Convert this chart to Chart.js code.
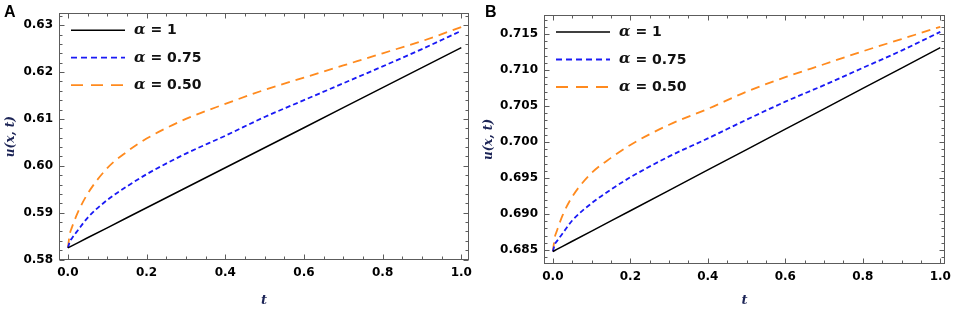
<!DOCTYPE html>
<html>
<head>
<meta charset="utf-8">
<script src="https://cdn.jsdelivr.net/npm/chart.js@4.4.0/dist/chart.umd.min.js"></script>
<style>
html, body { margin: 0; padding: 0; background: #fff; }
#wrap { position: relative; width: 957px; height: 314px; overflow: hidden; }
.painel { position: absolute; top: 0; height: 314px; }
#painelA { left: 0; width: 478px; }
#painelB { left: 478px; width: 479px; }
</style>
</head>
<body>
<div id="wrap">
  <div class="painel" id="painelA"><canvas id="chartA"></canvas></div>
  <div class="painel" id="painelB"><canvas id="chartB"></canvas></div>
</div>
<script>
// valores
const tempos = [0, 0.005, 0.01, 0.025, 0.05, 0.1, 0.15, 0.2, 0.3, 0.4, 0.5, 0.6, 0.7, 0.8, 0.9, 1.0];
const legendas = ['α = 1', 'α = 0.75', 'α = 0.50'];

// painel A
const u1A   = [0.58250, 0.58271, 0.58293, 0.58357, 0.58464, 0.58677, 0.58891, 0.59104, 0.59531, 0.59958, 0.60385, 0.60812, 0.61239, 0.61666, 0.62093, 0.62520];
const u075A = [0.5825, 0.5838, 0.5845, 0.5862, 0.5889, 0.5927, 0.5956, 0.5982, 0.6026, 0.6064, 0.6104, 0.6140, 0.6176, 0.6212, 0.6249, 0.6288];
const u050A = [0.5825, 0.5855, 0.5868, 0.5900, 0.5940, 0.5995, 0.6030, 0.6058, 0.6100, 0.6132, 0.6162, 0.6188, 0.6214, 0.6240, 0.6266, 0.6296];

// painel B
const u1B   = [0.68480, 0.68494, 0.68508, 0.68551, 0.68622, 0.68763, 0.68905, 0.69046, 0.69329, 0.69612, 0.69895, 0.70178, 0.70461, 0.70744, 0.71027, 0.71310];
const u075B = [0.6848, 0.6858, 0.6862, 0.6873, 0.6891, 0.6915, 0.6934, 0.6951, 0.6980, 0.7005, 0.7031, 0.7056, 0.7079, 0.7103, 0.7127, 0.7153];
const u050B = [0.6848, 0.6868, 0.6876, 0.6898, 0.6924, 0.6957, 0.6978, 0.6996, 0.7024, 0.7046, 0.7070, 0.7090, 0.7108, 0.7126, 0.7143, 0.7160];

const xTicks  = [0, 0.2, 0.4, 0.6, 0.8, 1.0];
const yTicksA = [0.58, 0.59, 0.60, 0.61, 0.62, 0.63];
const yTicksB = [0.685, 0.690, 0.695, 0.700, 0.705, 0.710, 0.715];

const corTitulo = '#1c2456';

// moldura com marcas internas, legenda e letra do painel
const moldura = {
    id: 'moldura',
    afterDatasetsDraw(chart, args, opts) {
        const ctx = chart.ctx;
        const a = chart.chartArea;
        const sx = chart.scales.x;
        const sy = chart.scales.y;
        const L = Math.round(a.left) + 0.5, R = Math.round(a.right) - 0.5;
        const T = Math.round(a.top) + 0.5, B = Math.round(a.bottom) - 0.5;

        ctx.save();
        ctx.strokeStyle = '#5c5c5c';
        ctx.lineWidth = 1;
        ctx.setLineDash([]);
        ctx.strokeRect(L, T, R - L, B - T);

        ctx.beginPath();
        let i0 = Math.ceil(sx.min / opts.xMinor - 1e-9);
        for (let i = i0; i * opts.xMinor <= sx.max + 1e-9; i++) {
            const v = i * opts.xMinor;
            const maior = Math.abs(v / opts.xMajor - Math.round(v / opts.xMajor)) < 1e-6;
            const len = maior ? 5 : 3;
            const px = Math.round(sx.getPixelForValue(v)) + 0.5;
            ctx.moveTo(px, B); ctx.lineTo(px, B - len);
            ctx.moveTo(px, T); ctx.lineTo(px, T + len);
        }
        i0 = Math.ceil(sy.min / opts.yMinor - 1e-9);
        for (let i = i0; i * opts.yMinor <= sy.max + 1e-9; i++) {
            const v = i * opts.yMinor;
            const maior = Math.abs(v / opts.yMajor - Math.round(v / opts.yMajor)) < 1e-6;
            const len = maior ? 5 : 3;
            const py = Math.round(sy.getPixelForValue(v)) + 0.5;
            ctx.moveTo(L, py); ctx.lineTo(L + len, py);
            ctx.moveTo(R, py); ctx.lineTo(R - len, py);
        }
        ctx.stroke();

        // legenda dentro do gráfico
        chart.data.datasets.forEach((ds, k) => {
            const y = a.top + 17 + k * 27.5;
            const x0 = a.left + 12;
            ctx.beginPath();
            ctx.strokeStyle = ds.borderColor;
            ctx.lineWidth = ds.borderWidth;
            ctx.setLineDash(ds.legendDash || ds.borderDash || []);
            ctx.moveTo(x0, y);
            ctx.lineTo(x0 + 54, y);
            ctx.stroke();
            ctx.setLineDash([]);
            ctx.fillStyle = '#111';
            ctx.textBaseline = 'middle';
            ctx.textAlign = 'left';
            ctx.font = 'italic bold 15px "DejaVu Serif"';
            const alfa = ds.label.charAt(0);
            ctx.fillText(alfa, x0 + 63, y);
            const w = ctx.measureText(alfa).width;
            ctx.font = 'bold 14px "DejaVu Sans"';
            ctx.fillText(ds.label.slice(1), x0 + 63 + w, y + 0.5);
        });

        // letra do painel
        ctx.fillStyle = '#000';
        ctx.font = 'bold 16px "Liberation Sans"';
        ctx.textBaseline = 'alphabetic';
        ctx.fillText(opts.letra, opts.letraX, 17);
        ctx.restore();
    }
};

function serie(valores) {
    return tempos.map((t, i) => ({ x: t, y: valores[i] }));
}

function criarPainel(id, dados, cfg) {
    const ctx = document.getElementById(id).getContext('2d');
    return new Chart(ctx, {
        type: 'line',
        data: {
            datasets: [
                { label: legendas[0], data: serie(dados[0]), borderColor: '#000000', borderWidth: 1.5, pointRadius: 0, tension: 0 },
                { label: legendas[1], data: serie(dados[1]), borderColor: '#1a1af5', borderWidth: 1.8, borderDash: [5, 3], legendDash: [6, 4], pointRadius: 0, cubicInterpolationMode: 'monotone' },
                { label: legendas[2], data: serie(dados[2]), borderColor: '#ff8a1e', borderWidth: 1.8, borderDash: [9, 6], legendDash: [12, 8], pointRadius: 0, cubicInterpolationMode: 'monotone' }
            ]
        },
        options: {
            responsive: true,
            maintainAspectRatio: false,
            animation: false,
            layout: { padding: { top: cfg.top, right: cfg.right, left: 0, bottom: 0 } },
            plugins: {
                legend: { display: false },
                tooltip: { enabled: false },
                moldura: cfg.moldura
            },
            scales: {
                x: {
                    type: 'linear',
                    min: cfg.xMin,
                    max: cfg.xMax,
                    afterBuildTicks: s => { s.ticks = xTicks.map(v => ({ value: v })); },
                    afterFit: s => { s.height = cfg.xAltura; },
                    grid: { display: false, drawTicks: false },
                    border: { display: false },
                    ticks: {
                        autoSkip: false,
                        maxRotation: 0,
                        padding: 6,
                        color: '#000',
                        font: { family: 'DejaVu Sans', size: 12, weight: 'bold' },
                        callback: v => v.toFixed(1)
                    },
                    title: {
                        display: true,
                        text: 't',
                        color: corTitulo,
                        font: { family: 'DejaVu Serif', size: 13, style: 'italic', weight: 'bold' },
                        padding: { top: 0, bottom: cfg.tituloX }
                    }
                },
                y: {
                    type: 'linear',
                    min: cfg.yMin,
                    max: cfg.yMax,
                    afterBuildTicks: s => { s.ticks = cfg.yTicks.map(v => ({ value: v })); },
                    afterFit: s => { s.width = cfg.yLargura; },
                    grid: { display: false, drawTicks: false },
                    border: { display: false },
                    ticks: {
                        autoSkip: false,
                        padding: 6,
                        color: '#000',
                        font: { family: 'DejaVu Sans', size: 12, weight: 'bold' },
                        callback: v => v.toFixed(cfg.casas)
                    },
                    title: {
                        display: true,
                        text: 'u(x, t)',
                        color: corTitulo,
                        font: { family: 'DejaVu Serif', size: 12, style: 'italic', weight: 'bold' },
                        padding: { top: cfg.tituloY, bottom: 0 }
                    }
                }
            }
        },
        plugins: [moldura]
    });
}

criarPainel('chartA', [u1A, u075A, u050A], {
    top: 5, right: 3, xAltura: 54, yLargura: 59,
    xMin: -0.0226, xMax: 1.0201, yMin: 0.5799, yMax: 0.63255,
    yTicks: yTicksA, casas: 2, tituloX: 6, tituloY: 4,
    moldura: { xMinor: 0.05, xMajor: 0.2, yMinor: 0.002, yMajor: 0.01, letra: 'A', letraX: 4 }
});

criarPainel('chartB', [u1B, u075B, u050B], {
    top: 15, right: 6, xAltura: 50, yLargura: 66,
    xMin: -0.0229, xMax: 1.0127, yMin: 0.68306, yMax: 0.71764,
    yTicks: yTicksB, casas: 3, tituloX: 6, tituloY: 4,
    moldura: { xMinor: 0.05, xMajor: 0.2, yMinor: 0.001, yMajor: 0.005, letra: 'B', letraX: 7 }
});
</script>
</body>
</html>
